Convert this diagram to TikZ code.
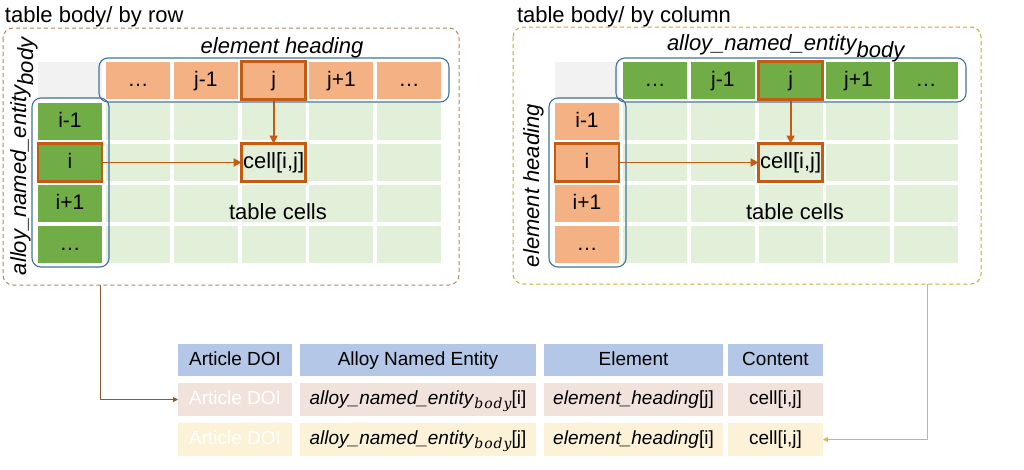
\documentclass[tikz,border=0pt]{standalone}
\usepackage{fix-cm}
\usepackage{fontspec}
\setmainfont{Liberation Sans}
\newfontfamily\subfont{DejaVu Serif}
\usetikzlibrary{arrows.meta}
\definecolor{hdrorange}{HTML}{F4B183}
\definecolor{hdrgreen}{HTML}{70AD47}
\definecolor{cellgreen}{HTML}{E2F0D9}
\definecolor{cellgray}{HTML}{F2F2F2}
\definecolor{hlorange}{HTML}{C55A11}
\definecolor{grpblue}{HTML}{41719C}
\definecolor{dashbrown}{HTML}{B5835A}
\definecolor{dashgold}{HTML}{D4A52C}
\definecolor{linkbrown}{HTML}{8C5A32}
\definecolor{linkgold}{HTML}{D6B656}
\definecolor{tblhead}{HTML}{B4C7E7}
\definecolor{tblrowA}{HTML}{F1E3DC}
\definecolor{tblrowB}{HTML}{FBF2D8}
\newcommand\bodysub{\raisebox{-4pt}{\subfont\itshape\fontsize{14}{14}\selectfont b\kern1pt o\kern1pt d\kern1pt y}}
\begin{document}
\begin{tikzpicture}[x=1pt,y=-1pt,
  every node/.style={font=\fontsize{22}{26}\selectfont, inner sep=0pt, outer sep=0pt},
  gcell/.style={minimum width=64pt, minimum height=37pt, fill=#1, font=\fontsize{21}{25}\selectfont,
    text height=15pt, text depth=4pt},
  hlbox/.style={draw=hlorange, line width=2.8pt, minimum width=64pt, minimum height=38pt,
    text height=15pt, text depth=4pt},
  grp/.style={draw=grpblue, line width=1.1pt, rounded corners=9pt},
  link/.style={draw=hlorange, line width=1.8pt, -{Triangle[length=8pt,width=8pt]}},
  outerbox/.style={line width=1pt, dash pattern=on 4pt off 3pt, rounded corners=10pt},
  conn/.style={line width=0.9pt, -{Triangle[length=5pt,width=5pt]}},
  tcell/.style={font=\fontsize{19}{23}\selectfont, minimum height=33pt, fill=#1,
    text height=14pt, text depth=4pt},
]
\useasboundingbox (0,0) rectangle (1024,469);

% outer dashed panels
\draw[outerbox, draw=dashbrown] (3,28) rectangle (459,285);
\draw[outerbox, draw=dashgold] (513,27) rectangle (981,284);
\node[anchor=base west] (titleL) at (5,22) {table body/ by row};
\node[anchor=base west] (titleR) at (517,22) {table body/ by column};

% panels
\foreach \p/\ox/\hc/\lc in {L/0/hdrorange/hdrgreen, R/517/hdrgreen/hdrorange}{
  \node[gcell=cellgray] (\p-corner) at (\ox+70,80.5) {};
  \foreach \i/\t in {0/…,1/j-1,2/j,3/j+1,4/…}
    \node[gcell=\hc] (\p-h\i) at (\ox+138+67.8*\i, 80.5) {\t};
  \foreach \r/\t in {1/i-1,2/i,3/i+1,4/…}
    \node[gcell=\lc] (\p-v\r) at (\ox+70, 80.5+41*\r) {\t};
  \foreach \r in {1,...,4}
    \foreach \c in {0,...,4}
      \node[gcell=cellgreen] (\p-g\r\c) at (\ox+138+67.8*\c, 80.5+41*\r) {};
  \node[hlbox] (\p-jh) at (\p-h2) {};
  \node[hlbox] (\p-ih) at (\p-v2) {};
  \node[hlbox, fill=cellgreen] (\p-cell) at (\p-g22) {cell[i,j]};
  \draw[link] (\p-jh.south) -- (\p-cell.north);
  \draw[link] (\p-ih.east) -- (\p-cell.west);
  \node (\p-tc) at (\ox+278,212) {table cells};
  \draw[grp] (\ox+99,58) rectangle (\ox+449,102);
  \draw[grp] (\ox+32,98) rectangle (\ox+109,267);
}

% panel labels
\node[anchor=base] (labL) at (282,53) {\textit{element heading}};
\node[anchor=base west, rotate=90] (labLv) at (26,275) {\textit{alloy\_named\_entity\raisebox{-7pt}{body}}};
\node[anchor=base west] (labR) at (667,50) {\textit{alloy\_named\_entity\raisebox{-7pt}{body}}};
\node[anchor=base west, rotate=90] (labRv) at (539,267) {\textit{element heading}};

% bottom table
\node[tcell=tblhead, minimum width=114pt, minimum height=32pt] (T-a0) at (235,360) {Article DOI};
\node[tcell=tblhead, minimum width=236pt, minimum height=32pt] (T-b0) at (418,360) {Alloy Named Entity};
\node[tcell=tblhead, minimum width=179pt, minimum height=32pt] (T-c0) at (633.5,360) {Element};
\node[tcell=tblhead, minimum width=95pt, minimum height=32pt] (T-d0) at (775.5,360) {Content};

\node[tcell=tblrowA, minimum width=114pt, text=white] (T-a1) at (235,399.5) {Article DOI};
\node[tcell=tblrowA, minimum width=236pt] (T-b1) at (418,399.5) {\textit{alloy\_named\_entity}\bodysub[i]};
\node[tcell=tblrowA, minimum width=179pt] (T-c1) at (633.5,399.5) {\textit{element\_heading}[j]};
\node[tcell=tblrowA, minimum width=95pt] (T-d1) at (775.5,399.5) {cell[i,j]};

\node[tcell=tblrowB, minimum width=114pt, text=white] (T-a2) at (235,439.5) {Article DOI};
\node[tcell=tblrowB, minimum width=236pt] (T-b2) at (418,439.5) {\textit{alloy\_named\_entity}\bodysub[j]};
\node[tcell=tblrowB, minimum width=179pt] (T-c2) at (633.5,439.5) {\textit{element\_heading}[i]};
\node[tcell=tblrowB, minimum width=95pt] (T-d2) at (775.5,439.5) {cell[i,j]};

% connectors
\coordinate (lstart) at (100,285);
\coordinate (rstart) at (927,284);
\draw[conn, draw=linkbrown] (lstart) |- (T-a1.west);
\draw[conn, draw=linkgold] (rstart) |- (T-d2.east);
\end{tikzpicture}
\end{document}
